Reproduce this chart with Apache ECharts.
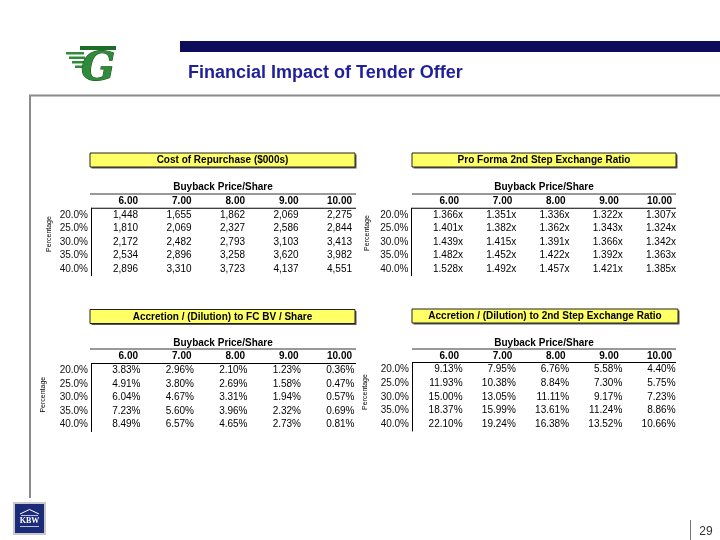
<!DOCTYPE html>
<html><head><meta charset="utf-8">
<script src="https://cdn.jsdelivr.net/npm/echarts@6/dist/echarts.min.js"></script>
<style>html,body{margin:0;padding:0;background:#fff}#c{width:720px;height:540px}</style>
</head><body><div id="c"></div>
<script>
// ---------------- data ----------------
const pageTitle = 'Financial Impact of Tender Offer';
const pageNumber = '29';
const prices = ['6.00', '7.00', '8.00', '9.00', '10.00'];
const percentages = ['20.0%', '25.0%', '30.0%', '35.0%', '40.0%'];
const tableTitles = [
  'Cost of Repurchase ($000s)',
  'Pro Forma 2nd Step Exchange Ratio',
  'Accretion / (Dilution) to FC BV / Share',
  'Accretion / (Dilution) to 2nd Step Exchange Ratio'
];
const columnHeader = 'Buyback Price/Share';
const rowHeader = 'Percentage';
const costOfRepurchase = [
  [1448, 1655, 1862, 2069, 2275],
  [1810, 2069, 2327, 2586, 2844],
  [2172, 2482, 2793, 3103, 3413],
  [2534, 2896, 3258, 3620, 3982],
  [2896, 3310, 3723, 4137, 4551]
];
const proFormaRatio = [
  [1.366, 1.351, 1.336, 1.322, 1.307],
  [1.401, 1.382, 1.362, 1.343, 1.324],
  [1.439, 1.415, 1.391, 1.366, 1.342],
  [1.482, 1.452, 1.422, 1.392, 1.363],
  [1.528, 1.492, 1.457, 1.421, 1.385]
];
const accretionBV = [
  [3.83, 2.96, 2.10, 1.23, 0.36],
  [4.91, 3.80, 2.69, 1.58, 0.47],
  [6.04, 4.67, 3.31, 1.94, 0.57],
  [7.23, 5.60, 3.96, 2.32, 0.69],
  [8.49, 6.57, 4.65, 2.73, 0.81]
];
const accretionRatio = [
  [9.13, 7.95, 6.76, 5.58, 4.40],
  [11.93, 10.38, 8.84, 7.30, 5.75],
  [15.00, 13.05, 11.11, 9.17, 7.23],
  [18.37, 15.99, 13.61, 11.24, 8.86],
  [22.10, 19.24, 16.38, 13.52, 10.66]
];

// ---------------- layout / style ----------------
const FONT = '"Liberation Sans", Arial, Helvetica, sans-serif';
const fmts = [
  v => v.toLocaleString('en-US'),
  v => v.toFixed(3) + 'x',
  v => v.toFixed(2) + '%',
  v => v.toFixed(2) + '%'
];
const valuesList = [costOfRepurchase, proFormaRatio, accretionBV, accretionRatio];
const layouts = [
  {lineL: 90, lineR: 356, boxL: 90, boxR: 355, boxY: 153, boxH: 14, buyY: 187, l1: 194, l2: 208.25, gl: 111.25, gw: 267.5, gt: 208.25, gh: 67.5, axisX: 91, pctX: 48.7, pctY: 234, dv: 0, headY: 201.7},
  {lineL: 412, lineR: 676, boxL: 412, boxR: 676, boxY: 153, boxH: 14, buyY: 187, l1: 194, l2: 208.25, gl: 432.4, gw: 266.25, gt: 208.25, gh: 67.5, axisX: 411.5, pctX: 366.7, pctY: 233, dv: 4, headY: 201.7},
  {lineL: 90, lineR: 356, boxL: 90, boxR: 355, boxY: 309.5, boxH: 14, buyY: 343, l1: 349, l2: 363.5, gl: 111.25, gw: 267.5, gt: 363.5, gh: 68, axisX: 91, pctX: 43, pctY: 394.7, dv: 2.5, headY: 356},
  {lineL: 412, lineR: 676, boxL: 412, boxR: 678, boxY: 309, boxH: 14, buyY: 343, l1: 349, l2: 362.5, gl: 432.4, gw: 266.25, gt: 362.5, gh: 68.5, axisX: 412, pctX: 365, pctY: 392, dv: 3.5, headY: 356}
];

const grid = [], xAxis = [], yAxis = [], series = [], graphic = [];

layouts.forEach((L, i) => {
  grid.push({left: L.gl, top: L.gt, width: L.gw, height: L.gh, containLabel: false});
  xAxis.push({
    type: 'category', gridIndex: i, position: 'top', data: prices, boundaryGap: true,
    axisLine: {show: false}, axisTick: {show: false}, splitLine: {show: false},
    axisLabel: {show: true, interval: 0, align: 'right', margin: L.gt - L.headY - 5,
      fontFamily: FONT, fontSize: 10, fontWeight: 'bold', color: '#000'}
  });
  yAxis.push({
    type: 'category', gridIndex: i, data: percentages, inverse: true, boundaryGap: true,
    offset: L.gl - L.axisX,
    axisLine: {show: true, lineStyle: {color: '#000', width: 1}},
    axisTick: {show: false}, splitLine: {show: false},
    axisLabel: {show: true, interval: 0, margin: 3, fontFamily: FONT, fontSize: 10, fontWeight: 'normal', color: '#111'}
  });
  const vals = valuesList[i];
  const data = [];
  vals.forEach((row, r) => row.forEach((v, c) => data.push([c, r, v])));
  series.push({
    type: 'scatter', xAxisIndex: i, yAxisIndex: i, data: data,
    symbolSize: 1, itemStyle: {color: 'rgba(255,255,255,0)', opacity: 1}, silent: true,
    emphasis: {disabled: true},
    label: {show: true, position: 'left', distance: 0, offset: [L.dv + 0.5, 0],
      fontFamily: FONT, fontSize: 10, color: '#000', opacity: 1,
      textBorderWidth: 0, textBorderColor: 'transparent',
      formatter: p => fmts[i](p.value[2])}
  });
  // yellow title box (shadow + box + text)
  graphic.push({type: 'rect', shape: {x: L.boxL + 1.5, y: L.boxY + 1.5, width: L.boxR - L.boxL, height: L.boxH}, style: {fill: '#555'}, silent: true});
  graphic.push({type: 'rect', shape: {x: L.boxL, y: L.boxY, width: L.boxR - L.boxL, height: L.boxH}, style: {fill: '#FFFF66', stroke: '#222', lineWidth: 1}, silent: true});
  graphic.push({type: 'text', x: (L.boxL + L.boxR) / 2, y: L.boxY + L.boxH / 2 + 0.5, style: {text: tableTitles[i], textAlign: 'center', textVerticalAlign: 'middle', font: 'bold 10px ' + FONT, fill: '#000'}, silent: true});
  // column header title
  graphic.push({type: 'text', x: (L.lineL + L.lineR) / 2, y: L.buyY, style: {text: columnHeader, textAlign: 'center', textVerticalAlign: 'middle', font: 'bold 10px ' + FONT, fill: '#000'}, silent: true});
  // rules
  graphic.push({type: 'line', shape: {x1: L.lineL, y1: L.l1, x2: L.lineR, y2: L.l1}, style: {stroke: '#333', lineWidth: 1}, silent: true});
  graphic.push({type: 'line', shape: {x1: L.axisX, y1: L.l2, x2: L.lineR, y2: L.l2}, style: {stroke: '#000', lineWidth: 1}, silent: true});
  // row header (rotated)
  graphic.push({type: 'text', x: L.pctX, y: L.pctY, rotation: Math.PI / 2, style: {text: rowHeader, textAlign: 'center', textVerticalAlign: 'middle', font: '7px ' + FONT, fill: '#000'}, silent: true});
});

// page decoration
graphic.push(
  {type: 'rect', shape: {x: 180, y: 41, width: 540, height: 11}, style: {fill: '#0c0c5a'}, silent: true},
  {type: 'text', x: 188, y: 73, style: {text: pageTitle, textAlign: 'left', textVerticalAlign: 'middle', font: 'bold 18px ' + FONT, fill: '#1f1f99'}, silent: true},
  {type: 'line', shape: {x1: 29, y1: 95.5, x2: 720, y2: 95.5}, style: {stroke: '#8a8a8a', lineWidth: 2}, silent: true},
  {type: 'line', shape: {x1: 30, y1: 95, x2: 30, y2: 498}, style: {stroke: '#8a8a8a', lineWidth: 2}, silent: true},
  // logo (approximation)
  {type: 'rect', shape: {x: 66, y: 52, width: 18, height: 2.5}, style: {fill: '#2f8a3a'}, silent: true},
  {type: 'rect', shape: {x: 69, y: 56.5, width: 16, height: 2.5}, style: {fill: '#2f8a3a'}, silent: true},
  {type: 'rect', shape: {x: 72, y: 61, width: 14, height: 2.5}, style: {fill: '#2f8a3a'}, silent: true},
  {type: 'rect', shape: {x: 75, y: 65.5, width: 12, height: 2.5}, style: {fill: '#2f8a3a'}, silent: true},
  {type: 'rect', shape: {x: 80, y: 46, width: 36, height: 4}, style: {fill: '#1f6b2a'}, silent: true},
  {type: 'text', x: 98, y: 70, style: {text: 'G', textAlign: 'center', textVerticalAlign: 'middle', font: 'italic bold 40px "DejaVu Serif", serif', fill: '#2f8a3a', stroke: '#0f4a18', lineWidth: 1}, silent: true},
  // KBW logo
  {type: 'rect', shape: {x: 14, y: 503, width: 31, height: 31}, style: {fill: '#1c2a7a', stroke: '#c8c8c8', lineWidth: 2}, silent: true},
  {type: 'polyline', shape: {points: [[20, 514], [29.5, 509.5], [39, 514]]}, style: {stroke: '#fff', lineWidth: 1, fill: 'none'}, silent: true},
  {type: 'line', shape: {x1: 21, y1: 515.5, x2: 38, y2: 515.5}, style: {stroke: '#fff', lineWidth: 0.7}, silent: true},
  {type: 'text', x: 29.5, y: 521, style: {text: 'KBW', textAlign: 'center', textVerticalAlign: 'middle', font: 'bold 8px "Liberation Serif", serif', fill: '#fff'}, silent: true},
  {type: 'line', shape: {x1: 20, y1: 526.5, x2: 39, y2: 526.5}, style: {stroke: '#fff', lineWidth: 0.7}, silent: true},
  // page number
  {type: 'line', shape: {x1: 690.5, y1: 520, x2: 690.5, y2: 540}, style: {stroke: '#777', lineWidth: 1}, silent: true},
  {type: 'text', x: 706, y: 532, style: {text: pageNumber, textAlign: 'center', textVerticalAlign: 'middle', font: '12px "Liberation Sans Narrow", ' + FONT, fill: '#333'}, silent: true}
);

const chart = echarts.init(document.getElementById('c'), null, {renderer: 'canvas'});
chart.setOption({
  backgroundColor: '#fff',
  animation: false,
  grid, xAxis, yAxis, series, graphic
});
</script></body></html>
